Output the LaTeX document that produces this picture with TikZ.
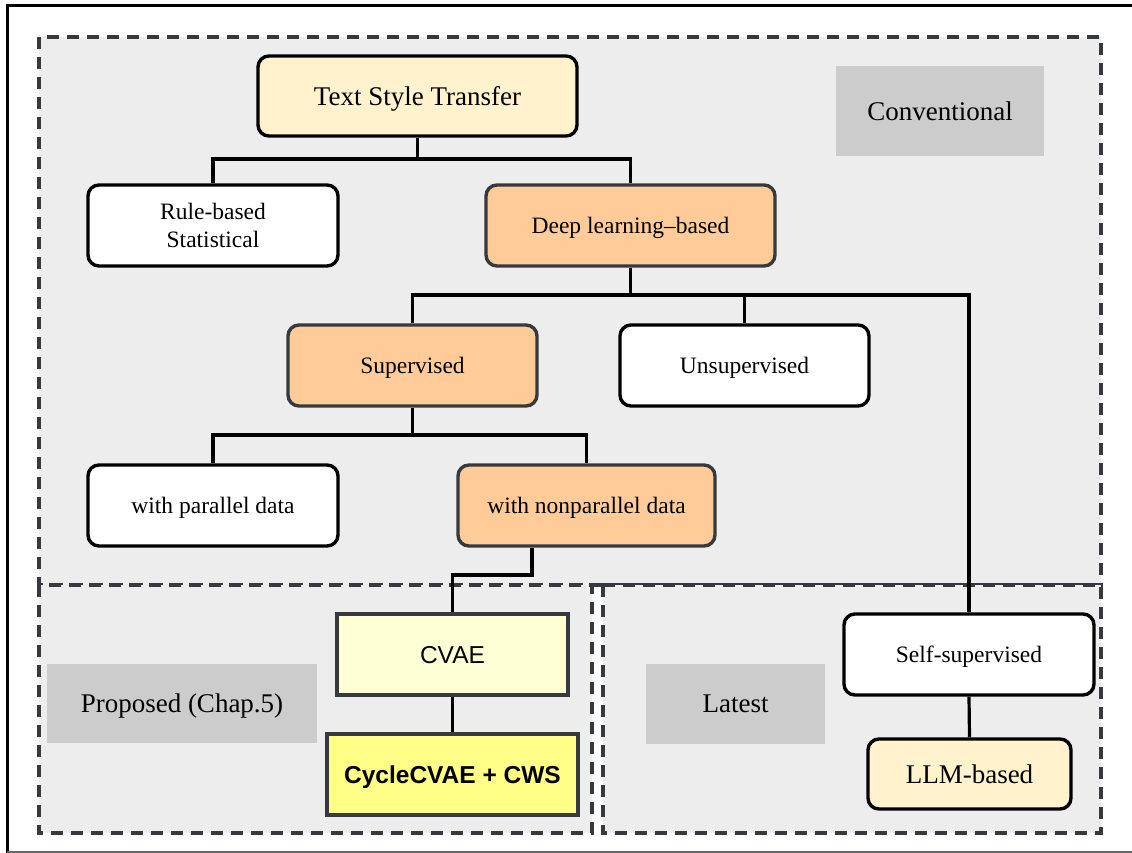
\documentclass[tikz,border=0pt]{standalone}
\usepackage{fontspec}
\setmainfont{Liberation Serif}
\newfontfamily\arialfont{Liberation Sans}
\definecolor{regfill}{HTML}{EDEDED}
\definecolor{regline}{HTML}{36393D}
\definecolor{lblfill}{HTML}{CCCCCC}
\definecolor{paleyel}{HTML}{FFF2CC}
\definecolor{orangef}{HTML}{FFCC99}
\definecolor{cvaef}{HTML}{FFFFD6}
\definecolor{cyclef}{HTML}{FFFF88}
\begin{document}
\begin{tikzpicture}[x=1pt,y=-1pt,
  region/.style={fill=regfill,draw=regline,line width=3.4pt,dash pattern=on 12pt off 8pt},
  rbox/.style={draw=black,line width=3.4pt,rounded corners=11pt,align=center,inner sep=0pt,text depth=0pt,font=\fontsize{23.5}{28}\selectfont},
  obox/.style={rbox,draw=regline,fill=orangef},
  wbox/.style={rbox,fill=white},
  sqbox/.style={draw=regline,line width=3.4pt,inner sep=0pt,text depth=0pt,align=center},
  lbl/.style={fill=lblfill,inner sep=0pt,text depth=0pt,font=\fontsize{27}{32}\selectfont},
  conn/.style={line width=3.6pt,draw=black},
  thinconn/.style={line width=3.2pt,draw=black}]
\useasboundingbox (0,0) rectangle (1132,853);
% frame
\draw[line width=3pt] (7,853) -- (7,6) -- (1132,6);
\draw[line width=2.2pt,draw=black!60] (7,852) -- (1132,852);
% regions
\draw[region] (39,37) rectangle (1101,585);
\draw[region] (39,585) rectangle (592,833);
\draw[region] (603,585) rectangle (1101,833);
% labels
\node[lbl,minimum width=208pt,minimum height=90pt] (conv) at (940,111) {Conventional};
\node[lbl,minimum width=270pt,minimum height=79pt] (prop) at (182,703.5) {Proposed (Chap.5)};
\node[lbl,minimum width=179pt,minimum height=80pt] (late) at (735.5,704) {Latest};
% nodes
\node[rbox,fill=paleyel,minimum width=319pt,minimum height=80pt,font=\fontsize{27}{32}\selectfont] (tst) at (417.5,96) {Text Style Transfer};
\node[wbox,minimum width=250pt,minimum height=81pt] (rule) at (213,225.5) {Rule-based\\Statistical};
\node[obox,minimum width=289pt,minimum height=81pt] (deep) at (630.5,225.5) {Deep learning–based};
\node[obox,minimum width=249pt,minimum height=81pt] (sup) at (412.5,365.5) {Supervised};
\node[wbox,minimum width=249pt,minimum height=81pt] (unsup) at (744.5,365.5) {Unsupervised};
\node[wbox,minimum width=250pt,minimum height=81pt] (par) at (213,505.5) {with parallel data};
\node[obox,minimum width=257pt,minimum height=81pt] (np) at (586.5,505.5) {with nonparallel data};
\node[sqbox,fill=cvaef,minimum width=231pt,minimum height=81pt,font=\arialfont\fontsize{24.5}{29}\selectfont] (cvae) at (452.5,654.5) {CVAE};
\node[sqbox,fill=cyclef,minimum width=251pt,minimum height=81pt,font=\arialfont\bfseries\fontsize{24.5}{29}\selectfont] (cyc) at (452.5,774.5) {CycleCVAE + CWS};
\node[wbox,minimum width=250pt,minimum height=81pt] (self) at (969,654.5) {Self-supervised};
\node[rbox,fill=paleyel,minimum width=203pt,minimum height=70pt,font=\fontsize{27}{32}\selectfont] (llm) at (969.5,774) {LLM-based};
% connectors
\coordinate (j1) at (417.5,159);
\draw[conn] (tst.south) -- (j1);
\draw[conn] (rule.north) |- (j1) -| (deep.north);
\coordinate (j2) at (630.5,295);
\draw[conn] (deep.south) -- (j2);
\draw[conn] (sup.north) |- (j2);
\draw[thinconn] (j2) -| (self.north);
\draw[conn] (unsup.north) -- (unsup.north |- j2);
\coordinate (j3) at (412.5,435);
\draw[conn] (sup.south) -- (j3);
\draw[conn] (par.north) |- (j3) -| (np.north);
\draw[conn] ([xshift=-54.5pt]np.south) -- ++(0,27) -| (cvae.north);
\draw[conn] (cvae.south) -- (cyc.north);
\draw[thinconn] (self.south) -- (llm.north);
\end{tikzpicture}
\end{document}
